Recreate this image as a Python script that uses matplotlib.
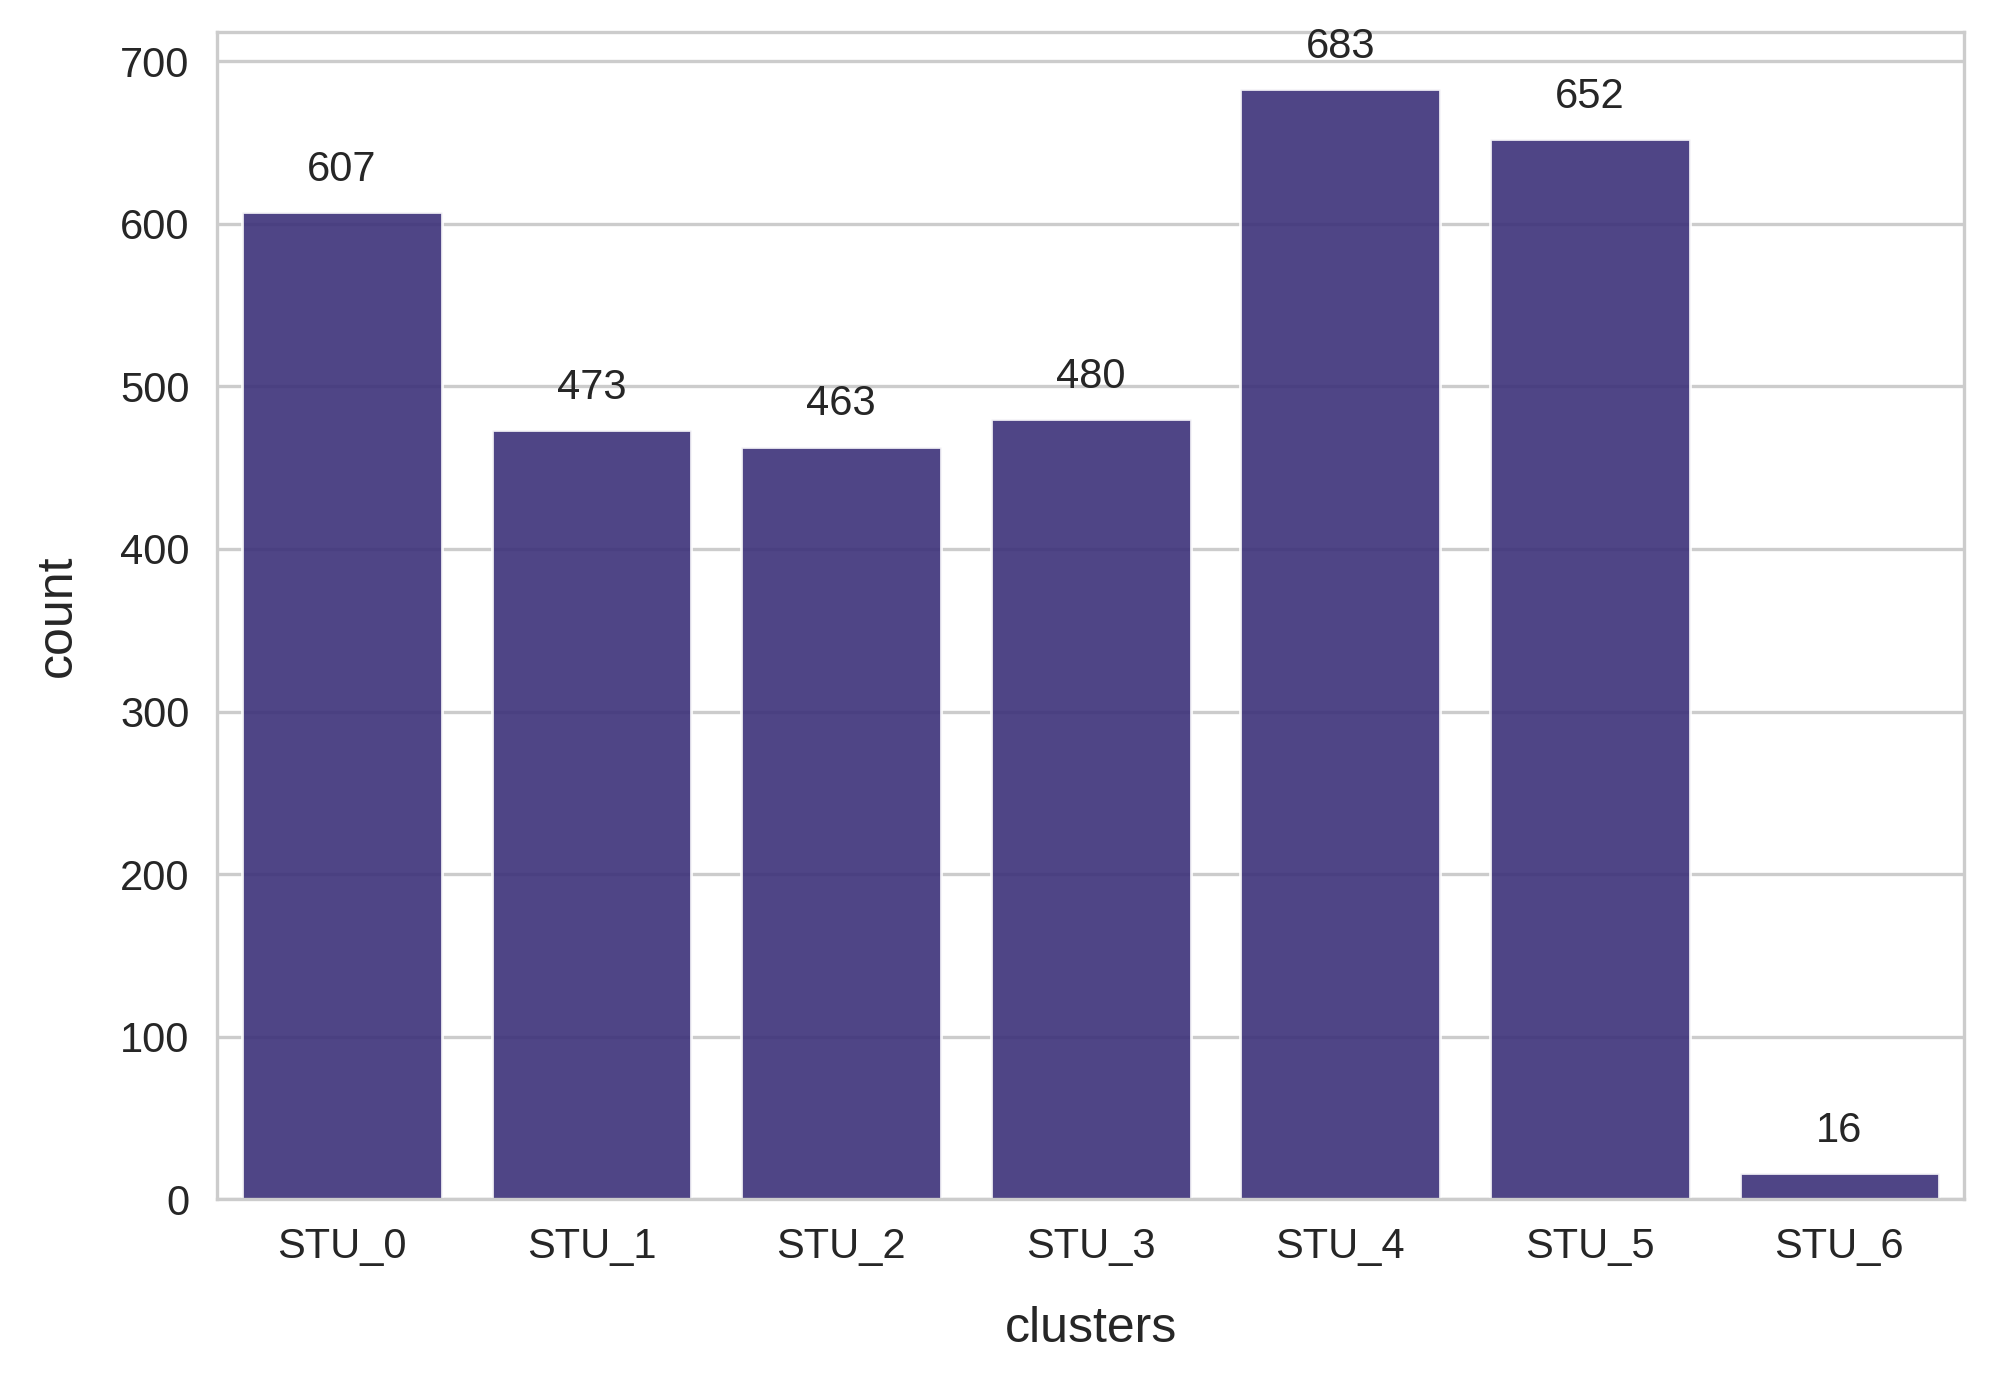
import matplotlib
matplotlib.use('Agg')
import matplotlib.pyplot as plt
import seaborn as sns

clusters = ['STU_0', 'STU_1', 'STU_2', 'STU_3', 'STU_4', 'STU_5', 'STU_6']
counts = [607, 473, 463, 480, 683, 652, 16]

sns.set_style('whitegrid')
plt.rcParams['font.family'] = ['Liberation Sans', 'DejaVu Sans']

fig, ax = plt.subplots(figsize=(9.97, 6.925), dpi=200)
fig.subplots_adjust(left=0.109, right=0.985, top=0.977, bottom=0.134)

bars = ax.bar(range(len(clusters)), counts, width=0.8, color='#3c3179', alpha=0.9,
              edgecolor='white', linewidth=1, zorder=2)
ax.set_axisbelow(True)
ax.grid(axis='x', visible=False)
ax.grid(axis='y', color='#cccccc', linewidth=1.2)

for b, c in zip(bars, counts):
    ax.annotate(str(c), (b.get_x() + b.get_width() / 2, c), xytext=(0, 8),
                textcoords='offset points', ha='center', va='bottom',
                fontsize=15, color='#262626')

ax.set_xticks(range(len(clusters)))
ax.set_xticklabels(clusters)
ax.set_xlim(-0.5, len(clusters) - 0.5)
ax.set_ylim(0, 718)
ax.tick_params(labelsize=15, colors='#262626', length=0, pad=10)
ax.set_xlabel('clusters', fontsize=18, color='#262626', labelpad=14)
ax.set_ylabel('count', fontsize=18, color='#262626', labelpad=14)
for s in ax.spines.values():
    s.set_color('#cccccc')
    s.set_linewidth(1.2)

plt.savefig('out.png', dpi=200)
